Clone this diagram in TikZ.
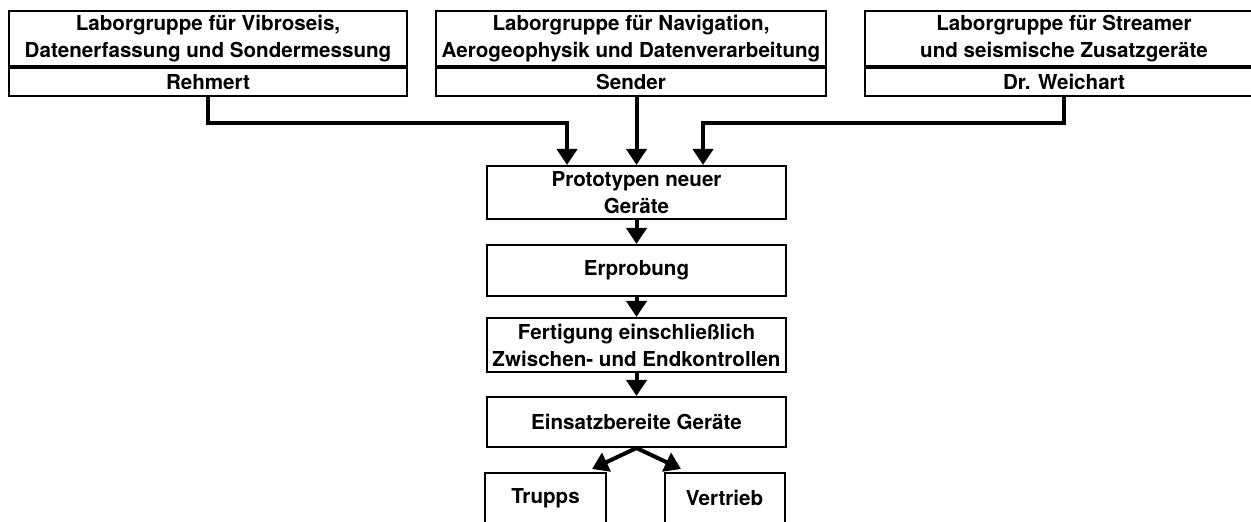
\documentclass[tikz,border=0pt]{standalone}
\usepackage{fontspec}
\setmainfont{TeX Gyre Heros}
\usetikzlibrary{arrows.meta}

\begin{document}
\begin{tikzpicture}[x=0.5pt,y=-0.5pt,
    box/.style={draw,line width=1pt,inner sep=0pt,align=center,
        font=\bfseries\fontsize{10.3}{13.5}\selectfont},
    flow/.style={line width=2pt,-{Triangle[width=10pt,length=8pt]}}]

    % Rahmen des Bildes
    \useasboundingbox (0,0) rectangle (1251,522);
    \clip (0,0) rectangle (1251,522);

    % Laborgruppen oben, jeweils mit Leiter darunter
    \foreach \n/\cx/\w/\titel/\leiter in {
        1/208/398/{Laborgruppe für Vibroseis,\\Datenerfassung und Sondermessung}/Rehmert,
        2/631/390/{Laborgruppe für Navigation,\\Aerogeophysik und Datenverarbeitung}/Sender,
        3/1064/398/{Laborgruppe für Streamer\\und seismische Zusatzgeräte}/{Dr. Weichart}} {
        \node[box,minimum width=\w*0.5pt,minimum height=27.5pt] (lab\n) at (\cx,38.5) {\titel};
        \node[box,minimum width=\w*0.5pt,minimum height=14pt,anchor=north] (chef\n) at (lab\n.south) {\leiter};
    }

    % Ablauf in der Mitte
    \node[box,minimum width=149.5pt,minimum height=26.5pt] (proto) at (636.5,192.5) {Prototypen neuer\\Geräte};
    \node[box,minimum width=149.5pt,minimum height=25.5pt] (erprob) at (636.5,270.5) {Erprobung};
    \node[box,minimum width=149.5pt,minimum height=27pt] (fertig) at (636.5,345) {Fertigung einschließlich\\Zwischen- und Endkontrollen};
    \node[box,minimum width=149.5pt,minimum height=25pt] (bereit) at (636.5,422) {Einsatzbereite Geräte};
    \node[box,minimum width=60.5pt,minimum height=25pt,anchor=north] (trupps) at (545.5,472) {Trupps};
    \node[box,minimum width=60pt,minimum height=25pt,anchor=north] (vertrieb) at (724.5,472) {Vertrieb};

    % Zuleitungen von den Laborgruppen
    \coordinate (knick1) at (567,123);
    \coordinate (knick3) at (703,123);
    \draw[flow] (chef1.south) |- (knick1) -- (knick1 |- proto.north);
    \draw[flow] (proto.north |- chef2.south) -- (proto.north);
    \draw[flow] (chef3.south) |- (knick3) -- (knick3 |- proto.north);

    % Pfeile zwischen den Stufen
    \foreach \a/\b in {proto/erprob, erprob/fertig, fertig/bereit}
        \draw[flow] (\a) -- (\b);

    % Verteilung auf Trupps und Vertrieb
    \coordinate (zuTrupps) at (592,469);
    \coordinate (zuVertrieb) at (681,469);
    \draw[flow] (bereit.south) -- (zuTrupps);
    \draw[flow] (bereit.south) -- (zuVertrieb);
\end{tikzpicture}
\end{document}
